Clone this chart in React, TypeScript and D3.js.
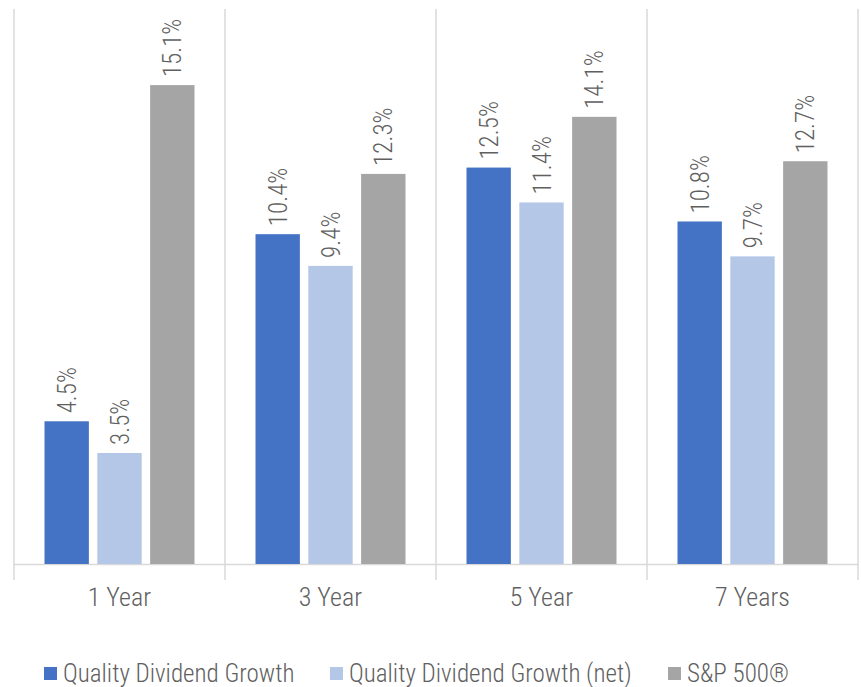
import React from "react";
import * as d3 from "d3";

const categories = ["1 Year", "3 Year", "5 Year", "7 Years"];
const seriesNames = ["Quality Dividend Growth", "Quality Dividend Growth (net)", "S&P 500®"];
const qdg = [4.5, 10.4, 12.5, 10.8];
const qdgNet = [3.5, 9.4, 11.4, 9.7];
const sp500 = [15.1, 12.3, 14.1, 12.7];
const colors = ["#4472C4", "#B4C7E7", "#A5A5A5"];

const W = 861, H = 687;
const FONT = "'Liberation Sans Narrow', 'Arial Narrow', 'Roboto Condensed', 'Liberation Sans', sans-serif";

export default function App() {
  const series = [qdg, qdgNet, sp500];
  const x = d3.scaleBand().domain(categories).range([14, 858]).paddingInner(0).paddingOuter(0);
  const x1 = d3.scaleBand().domain(seriesNames).range([0, 150]).paddingInner(0.16);
  const y = d3.scaleLinear().domain([0, 17.5]).range([564, 9]);
  const gridXs = [...categories.map((c) => x(c)!), 858];
  const legendX = [44, 330, 668];
  return (
    <svg width={W} height={H} style={{ position: "absolute", left: 0, top: 0, background: "#fff" }}>
      {gridXs.map((gx, i) => (
        <line key={i} x1={gx} x2={gx} y1={9} y2={580} stroke="#D9D9D9" strokeWidth={1.5} />
      ))}
      <line x1={14} x2={858} y1={564.5} y2={564.5} stroke="#D9D9D9" strokeWidth={1.5} />
      {categories.map((c, ci) => {
        const gx = x(c)! + (x.bandwidth() - 150) / 2;
        return (
          <g key={c}>
            {series.map((s, si) => {
              const bx = gx + x1(seriesNames[si])!;
              const top = y(s[ci]);
              return (
                <g key={si}>
                  <rect x={bx} y={top} width={x1.bandwidth()} height={564 - top} fill={colors[si]} />
                  <text
                    transform={`translate(${bx + x1.bandwidth() / 2 + 9},${top - 8}) rotate(-90)`}
                    fontFamily={FONT}
                    fontSize={25}
                    fontWeight={300}
                    fill="#606060"
                  >
                    {s[ci].toFixed(1)}%
                  </text>
                </g>
              );
            })}
            <text x={x(c)! + x.bandwidth() / 2} y={606} textAnchor="middle" fontFamily={FONT} fontSize={26} fontWeight={300} fill="#606060">
              {c}
            </text>
          </g>
        );
      })}
      {seriesNames.map((n, i) => (
        <g key={n}>
          <rect x={legendX[i]} y={667} width={13} height={13} fill={colors[i]} />
          <text x={legendX[i] + 19} y={682} fontFamily={FONT} fontSize={25} fontWeight={300} fill="#606060">
            {n}
          </text>
        </g>
      ))}
    </svg>
  );
}
